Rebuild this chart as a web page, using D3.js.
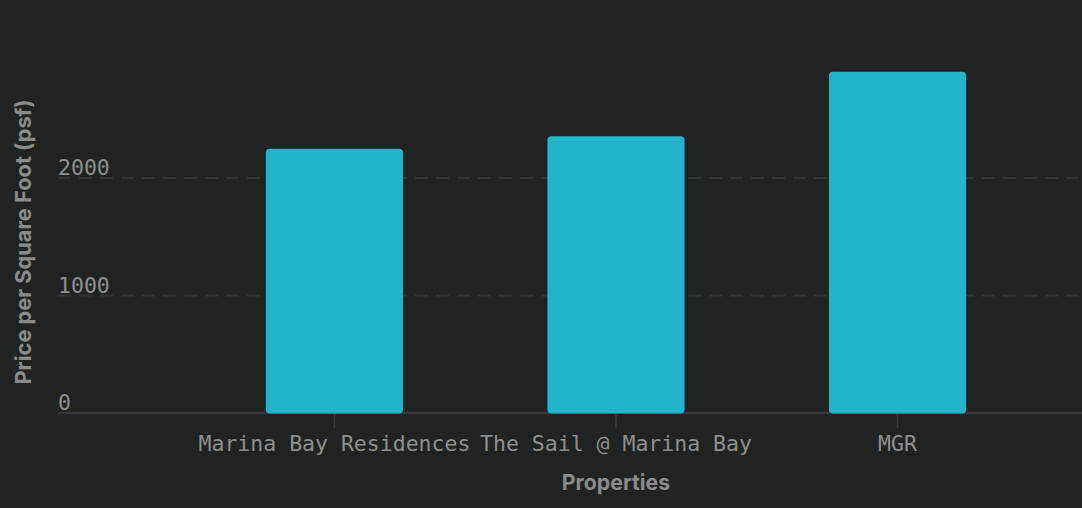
<!DOCTYPE html>
<html><head><meta charset="utf-8">
<script src="https://cdn.jsdelivr.net/npm/d3@7"></script>
<style>
html,body{margin:0;padding:0;background:#212322;overflow:hidden;}
svg{display:block;}
</style></head>
<body>
<svg id="chart" width="1082" height="508"></svg>
<script>
const categories = ["Marina Bay Residences", "The Sail @ Marina Bay", "MGR"];
const psfValues = [2250, 2355, 2905];
const yTicks = [0, 1000, 2000];

const W = 1082, H = 508;
const svg = d3.select("#chart");
svg.append("rect").attr("width", W).attr("height", H).attr("fill", "#212322");

const left = 58, right = 1082, bottom = 413;
const x = d3.scaleBand().domain(categories).range([left, right])
  .paddingInner(0.513).paddingOuter(0.575).align(0.642);
const y = d3.scaleLinear().domain([0, 3000]).range([bottom, bottom - 352.5]);

const mono = "'DejaVu Sans Mono', 'Liberation Mono', monospace";
const sans = "Inter, 'Noto Sans', 'DejaVu Sans', sans-serif";

// grid lines
svg.append("g").selectAll("line").data(yTicks.filter(d => d > 0)).join("line")
  .attr("x1", left).attr("x2", right)
  .attr("y1", d => y(d)).attr("y2", d => y(d))
  .attr("stroke", "#323534").attr("stroke-width", 2)
  .attr("stroke-dasharray", "13,8");

// y tick labels
svg.append("g").selectAll("text").data(yTicks).join("text")
  .attr("x", left).attr("y", d => y(d) - 3)
  .attr("fill", "#8e908f").attr("font-family", mono).attr("font-size", 21.5)
  .text(d => d);

// x axis via d3.axisBottom
const xAxis = svg.append("g").attr("transform", `translate(0,${bottom})`)
  .call(d3.axisBottom(x).tickSize(15).tickPadding(8));
xAxis.select(".domain").attr("stroke", "#38393b").attr("stroke-width", 2.5)
  .attr("d", `M${left},0H${right}`);
xAxis.selectAll(".tick line").attr("stroke", "#38393b").attr("stroke-width", 1.5);
xAxis.selectAll(".tick text").attr("fill", "#8e908f").attr("font-family", mono)
  .attr("font-size", 21.5);

// bars
svg.append("g").selectAll("rect").data(categories).join("rect")
  .attr("x", d => x(d)).attr("width", x.bandwidth())
  .attr("y", (d, i) => y(psfValues[i]))
  .attr("height", (d, i) => bottom + 0.5 - y(psfValues[i]))
  .attr("rx", 4).attr("ry", 4)
  .attr("fill", "#22b5cc");

// axis titles
svg.append("text").attr("x", 616).attr("y", 490)
  .attr("text-anchor", "middle").attr("fill", "#8a8c8b")
  .attr("font-family", sans).attr("font-weight", 700).attr("font-size", 21.3)
  .text("Properties");
svg.append("text").attr("transform", "translate(31,242) rotate(-90)")
  .attr("text-anchor", "middle").attr("fill", "#8a8c8b")
  .attr("font-family", sans).attr("font-weight", 700).attr("font-size", 21.8)
  .text("Price per Square Foot (psf)");
</script>
</body></html>
